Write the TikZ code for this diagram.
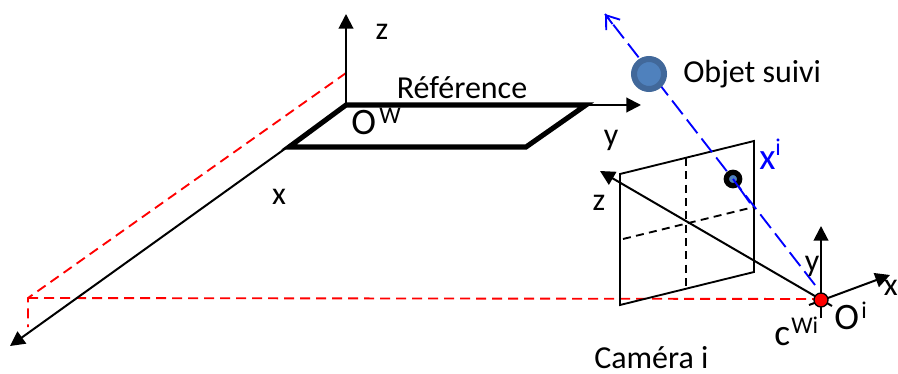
\documentclass[tikz,border=0pt]{standalone}
\usepackage{fontspec}
\setmainfont{Carlito}
\usetikzlibrary{arrows.meta}
\definecolor{ballfill}{HTML}{4F81BD}
\definecolor{ballline}{HTML}{41689A}
\tikzset{
  x=0.75pt,y=-0.75pt,
  axis/.style={line width=1.5pt,-{Triangle[length=11pt,width=11pt]}},
  refplane/.style={line width=3.8pt,line join=miter},
  campl/.style={line width=1.4pt,line join=miter},
  camdash/.style={line width=1.4pt,dash pattern=on 6pt off 4pt},
  reddash/.style={red,line width=1.4pt,dash pattern=on 7.5pt off 4.5pt},
  ray/.style={blue,line width=1.4pt,dash pattern=on 13pt off 5pt},
  lab/.style={inner sep=0pt,font=\fontsize{24}{26}\selectfont},
  biglab/.style={inner sep=0pt,font=\fontsize{28}{30}\selectfont},
  subup/.style={inner sep=0pt,font=\fontsize{18}{20}\selectfont}
}
\begin{document}
\begin{tikzpicture}
\useasboundingbox (0,0) rectangle (898,374);
% coordinates
\coordinate (ow) at (346,105);
\coordinate (owz) at (346,14);
\coordinate (owy) at (641,105);
\coordinate (owx) at (10,346);
\coordinate (rb) at (586,105);
\coordinate (rc) at (526,147);
\coordinate (rd) at (289,147);
\coordinate (r1) at (346,73);
\coordinate (r2) at (28,298);
\coordinate (r3) at (28,327);
\coordinate (ca) at (620,174);
\coordinate (cb) at (754,141);
\coordinate (cc) at (754,272);
\coordinate (cd) at (620,305);
\coordinate (v1) at (686,158);
\coordinate (v2) at (686,289);
\coordinate (h1) at (623,239);
\coordinate (h2) at (754,207);
\coordinate (oiy) at (821,226);
\coordinate (oix) at (890,275);
\coordinate (oiz) at (600,171);
\coordinate (raystart) at (815,285);
\coordinate (raytip) at (605,14);
\coordinate (ybelow) at (821,318);
\coordinate (xback) at (809,305);
\coordinate (zback) at (832,306);
% red construction lines
\draw[reddash] (r1) -- (r2) -- (r3);
\draw[reddash] (r2) -- (821,299);
% world frame
\draw[axis] (ow) -- (owz);
\draw[axis] (ow) -- (owy);
\draw[axis] (ow) -- (owx);
\draw[refplane] (ow) -- (rb) -- (rc) -- (rd) -- cycle;
% camera plane
\draw[campl] (ca) -- (cb) -- (cc) -- (cd) -- cycle;
\draw[camdash] (v1) -- (v2);
\draw[camdash] (h1) -- (h2);
% camera axes
\draw[axis] (zback) -- (oiz);
\draw[axis] (ybelow) -- (oiy);
\draw[axis] (xback) -- (oix);
% ray
\draw[ray] (raystart) -- (raytip);
\draw[blue,line width=1.4pt,-{Straight Barb[length=9pt,width=13pt]}] (612.5,24) -- (raytip);
% object
\node[circle,fill=ballfill,draw=ballline,line width=4.5pt,minimum size=22.5pt,inner sep=0pt] (ball) at (649,74) {};
\node[circle,fill=ballfill,draw=black,line width=4pt,minimum size=10pt,inner sep=0pt] (proj) at (733,179) {};
\draw[blue,line width=1.4pt] (proj.center) -- (750,203);
% optical centre
\node[circle,fill=red,draw=black,line width=1pt,minimum size=10.5pt,inner sep=0pt] (oi) at (821,300) {};
% labels
\node[lab] (lz) at (382,32) {z};
\node[lab] (lref) at (462,88) {Référence};
\node[biglab,anchor=base west] (low) at (351,135) {O};
\node[subup,anchor=base west] (lowp) at (379,123) {W};
\node[lab] (ly) at (611,140) {y};
\node[lab] (lx) at (279,197) {x};
\node[lab,anchor=west] (lobj) at (683,74) {Objet suivi};
\node[biglab,text=blue,anchor=base west] (lxi) at (759,169) {x};
\node[subup,text=blue,anchor=base west] (lxis) at (775,156) {i};
\node[lab] (lzc) at (599,203) {z};
\node[lab] (lyc) at (812,266) {y};
\node[lab,anchor=east] (lxc) at (898,288) {x};
\node[biglab,anchor=base west] (lc) at (774,345) {c};
\node[subup,anchor=base west] (lcs) at (791,333) {Wi};
\node[biglab,anchor=base west] (loi) at (834,329) {O};
\node[subup,anchor=base west] (lois) at (861,318) {i};
\node[lab,anchor=base west] (lcam) at (594,368) {Caméra i};
\end{tikzpicture}
\end{document}
